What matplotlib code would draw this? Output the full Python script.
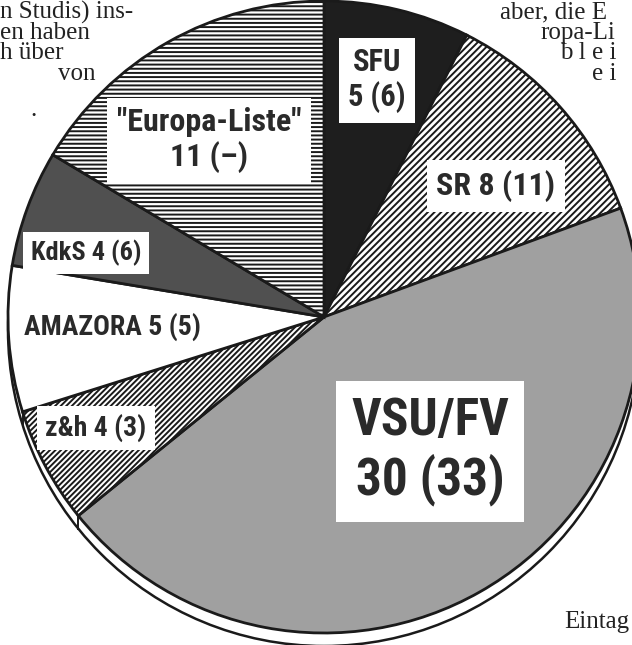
import numpy as np
import matplotlib
matplotlib.use("Agg")
import matplotlib.pyplot as plt
from matplotlib.patches import Circle

# seats 2nd number = previous term
parties = ["SFU", "SR", "VSU/FV", "z&h", "AMAZORA", "KdkS", "Europa-Liste"]
seats = [5, 8, 30, 4, 5, 4, 11]
labels = ["SFU\n5 (6)", "SR 8 (11)", "VSU/FV\n30 (33)", "z&h 4 (3)",
          "AMAZORA 5 (5)", "KdkS 4 (6)", "\"Europa-Liste\"\n11 (–)"]
colors = ["#1e1e1e", "white", "#a0a0a0", "white", "white", "#505050", "white"]
hatches = ["", "/////", "", "//////", "", "", "----"]

# label centre (pixels from top-left), font size, whether a white box is drawn
label_pos = [(377, 80), (496, 186), (430, 451), (96, 428), (112, 327), (86, 253), (209, 140)]
label_size = [22, 23, 37, 20, 20, 19, 23]
label_box = [True, True, True, True, False, True, True]

# surrounding newspaper text that got cut with the graphic
body_left = ["n Studis) ins-", "en haben", "h über", "von", "."]
body_left_pos = [(0, 12), (0, 33), (0, 53), (58, 74), (30, 110)]
body_right = ["aber, die E", "ropa-Li", "b l e i", "e i", "Eintag"]
body_right_pos = [(500, 12), (540, 33), (560, 53), (592, 74), (564, 622)]

W, H = 632, 645
cx, cy, r = 324, 317, 316
depth = 13

plt.rcParams["hatch.linewidth"] = 1.4
label_font = ["Roboto Condensed", "Open Sans Condensed", "Liberation Sans Narrow",
              "Lato", "Roboto", "DejaVu Sans"]

fig = plt.figure(figsize=(W / 100, H / 100), dpi=100)
ax = fig.add_axes([0, 0, 1, 1])

# 3d rim underneath the pie
ax.add_patch(Circle((cx, H - cy - depth), r, facecolor="white", edgecolor="#1a1a1a",
                    linewidth=1.8, zorder=1))

wedges, _ = ax.pie(seats, startangle=90, counterclock=False, center=(cx, H - cy),
                   radius=r, colors=colors,
                   wedgeprops=dict(edgecolor="#1a1a1a", linewidth=2))
for w, h in zip(wedges, hatches):
    w.set_hatch(h)
    w.set_zorder(2)

# short vertical edges of the rim where slice borders meet the lower half
for w in wedges:
    ang = np.deg2rad(w.theta1)
    x0, y0 = cx + r * np.cos(ang), H - cy + r * np.sin(ang)
    if y0 < H - cy - 0.3 * r:
        ax.plot([x0, x0], [y0, y0 - depth], color="#1a1a1a", lw=1.4, zorder=1.5)

for text, (x, y), fs, boxed in zip(labels, label_pos, label_size, label_box):
    bbox = dict(boxstyle="square,pad=0.3", facecolor="white", edgecolor="none") if boxed else None
    ax.text(x, H - y, text, ha="center", va="center", fontsize=fs, fontweight="bold",
            family=label_font, color="#2a2a2a", linespacing=1.2, bbox=bbox, zorder=5)

for text, (x, y) in zip(body_left + body_right, body_left_pos + body_right_pos):
    ax.text(x, H - y, text, ha="left", va="center", fontsize=18,
            family="Liberation Serif", color="#222222", zorder=6)

ax.set_xlim(0, W)
ax.set_ylim(0, H)
ax.set_aspect("equal")
ax.axis("off")

fig.savefig("out.png", dpi=100)
